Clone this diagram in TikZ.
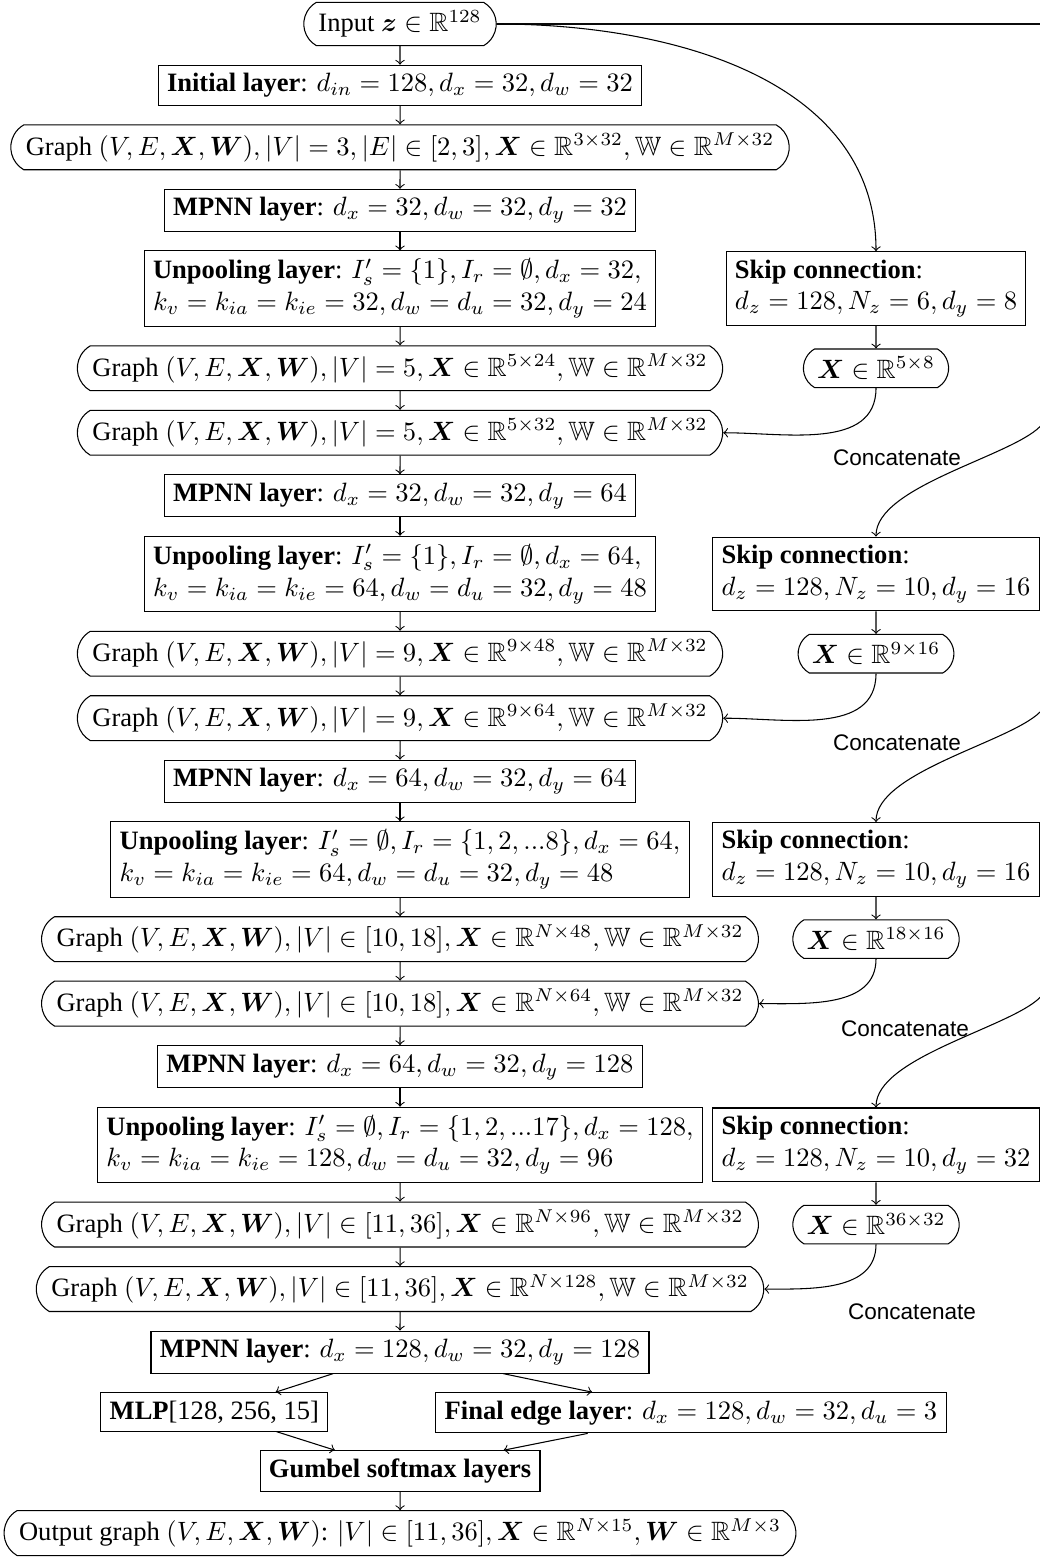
\documentclass[tikz,border=0pt]{standalone}
\usepackage{amsmath,amssymb}
\usepackage[no-math]{fontspec}
\setmainfont{Liberation Serif}
\newfontfamily\labfont{Liberation Sans}
\usetikzlibrary{positioning,calc,shapes.misc}
\begin{document}
\begin{tikzpicture}[x=0.377pt,y=-0.377pt,node distance=7pt,
  box/.style={draw,rectangle,inner xsep=3.33pt,inner ysep=3pt},
  gbox/.style={draw,rounded rectangle,rounded rectangle arc length=120,inner xsep=4pt,inner ysep=3pt},
  lbox/.style={box,align=left},
  arr/.style={->},
  lab/.style={font=\labfont\fontsize{8.5}{10}\selectfont,inner sep=0pt}]
\useasboundingbox (0,0) rectangle (1040,1560);
\coordinate (colR) at (876,0);
\coordinate (farR) at (1250,0);
% main column
\node[gbox] (in) at (400,24) {Input $\boldsymbol{z}\in\mathbb{R}^{128}$};
\node[box,below=of in] (init) {\textbf{Initial layer}: $d_{in}=128, d_x=32, d_w=32$};
\node[gbox,below=of init] (g1) {Graph $(V,E,\boldsymbol{X},\boldsymbol{W}), |V|=3, |E|\in[2,3], \boldsymbol{X}\in\mathbb{R}^{3\times 32}, \mathbb{W}\in\mathbb{R}^{M\times 32}$};
\node[box,below=of g1] (m1) {\textbf{MPNN layer}: $d_x=32, d_w=32, d_y=32$};
\node[lbox,below=of m1] (u1) {\textbf{Unpooling layer}: $I'_s=\{1\}, I_r=\emptyset, d_x=32,$\\ $k_v=k_{ia}=k_{ie}=32, d_w=d_u=32, d_y=24$};
\node[gbox,below=of u1] (g2) {Graph $(V,E,\boldsymbol{X},\boldsymbol{W}), |V|=5, \boldsymbol{X}\in\mathbb{R}^{5\times 24}, \mathbb{W}\in\mathbb{R}^{M\times 32}$};
\node[gbox,below=of g2] (g3) {Graph $(V,E,\boldsymbol{X},\boldsymbol{W}), |V|=5, \boldsymbol{X}\in\mathbb{R}^{5\times 32}, \mathbb{W}\in\mathbb{R}^{M\times 32}$};
\node[box,below=of g3] (m2) {\textbf{MPNN layer}: $d_x=32, d_w=32, d_y=64$};
\node[lbox,below=of m2] (u2) {\textbf{Unpooling layer}: $I'_s=\{1\}, I_r=\emptyset, d_x=64,$\\ $k_v=k_{ia}=k_{ie}=64, d_w=d_u=32, d_y=48$};
\node[gbox,below=of u2] (g4) {Graph $(V,E,\boldsymbol{X},\boldsymbol{W}), |V|=9, \boldsymbol{X}\in\mathbb{R}^{9\times 48}, \mathbb{W}\in\mathbb{R}^{M\times 32}$};
\node[gbox,below=of g4] (g5) {Graph $(V,E,\boldsymbol{X},\boldsymbol{W}), |V|=9, \boldsymbol{X}\in\mathbb{R}^{9\times 64}, \mathbb{W}\in\mathbb{R}^{M\times 32}$};
\node[box,below=of g5] (m3) {\textbf{MPNN layer}: $d_x=64, d_w=32, d_y=64$};
\node[lbox,below=of m3] (u3) {\textbf{Unpooling layer}: $I'_s=\emptyset, I_r=\{1,2,...8\}, d_x=64,$\\ $k_v=k_{ia}=k_{ie}=64, d_w=d_u=32, d_y=48$};
\node[gbox,below=of u3] (g6) {Graph $(V,E,\boldsymbol{X},\boldsymbol{W}), |V|\in[10,18], \boldsymbol{X}\in\mathbb{R}^{N\times 48}, \mathbb{W}\in\mathbb{R}^{M\times 32}$};
\node[gbox,below=of g6] (g7) {Graph $(V,E,\boldsymbol{X},\boldsymbol{W}), |V|\in[10,18], \boldsymbol{X}\in\mathbb{R}^{N\times 64}, \mathbb{W}\in\mathbb{R}^{M\times 32}$};
\node[box,below=of g7] (m4) {\textbf{MPNN layer}: $d_x=64, d_w=32, d_y=128$};
\node[lbox,below=of m4] (u4) {\textbf{Unpooling layer}: $I'_s=\emptyset, I_r=\{1,2,...17\}, d_x=128,$\\ $k_v=k_{ia}=k_{ie}=128, d_w=d_u=32, d_y=96$};
\node[gbox,below=of u4] (g8) {Graph $(V,E,\boldsymbol{X},\boldsymbol{W}), |V|\in[11,36], \boldsymbol{X}\in\mathbb{R}^{N\times 96}, \mathbb{W}\in\mathbb{R}^{M\times 32}$};
\node[gbox,below=of g8] (g9) {Graph $(V,E,\boldsymbol{X},\boldsymbol{W}), |V|\in[11,36], \boldsymbol{X}\in\mathbb{R}^{N\times 128}, \mathbb{W}\in\mathbb{R}^{M\times 32}$};
\node[box,below=of g9] (m5) {\textbf{MPNN layer}: $d_x=128, d_w=32, d_y=128$};
\node[box,below=of m5,xshift=-70pt] (mlp) {\textbf{MLP}[128, 256, 15]};
\node[box,below=of m5,xshift=109.7pt] (fin) {\textbf{Final edge layer}: $d_x=128, d_w=32, d_u=3$};
\node[box,anchor=north,yshift=-7pt] (gum) at (m5 |- mlp.south) {\textbf{Gumbel softmax layers}};
\node[gbox,below=of gum] (out) {Output graph $(V,E,\boldsymbol{X},\boldsymbol{W})$: $|V|\in[11,36], \boldsymbol{X}\in\mathbb{R}^{N\times 15}, \boldsymbol{W}\in\mathbb{R}^{M\times 3}$};
% right column
\node[lbox] (s1) at (u1 -| colR) {\textbf{Skip connection}:\\ $d_z=128, N_z=6, d_y=8$};
\node[lbox] (s2) at (u2 -| colR) {\textbf{Skip connection}:\\ $d_z=128, N_z=10, d_y=16$};
\node[lbox] (s3) at (u3 -| colR) {\textbf{Skip connection}:\\ $d_z=128, N_z=10, d_y=16$};
\node[lbox] (s4) at (u4 -| colR) {\textbf{Skip connection}:\\ $d_z=128, N_z=10, d_y=32$};
\node[gbox] (x1) at (g2 -| colR) {$\boldsymbol{X}\in\mathbb{R}^{5\times 8}$};
\node[gbox] (x2) at (g4 -| colR) {$\boldsymbol{X}\in\mathbb{R}^{9\times 16}$};
\node[gbox] (x3) at (g6 -| colR) {$\boldsymbol{X}\in\mathbb{R}^{18\times 16}$};
\node[gbox] (x4) at (g8 -| colR) {$\boldsymbol{X}\in\mathbb{R}^{36\times 32}$};
% labels
\node[lab] (c1) at ($(g3 -| colR)+(21,25)$) {Concatenate};
\node[lab] (c2) at ($(g5 -| colR)+(21,25)$) {Concatenate};
\node[lab] (c3) at ($(g7 -| colR)+(29,25)$) {Concatenate};
\node[lab] (c4) at ($(g9 -| colR)+(36,23)$) {Concatenate};
% main arrows
\foreach \a/\b in {in/init,init/g1,g1/m1,m1/u1,u1/g2,g2/g3,g3/m2,m2/u2,u2/g4,g4/g5,g5/m3,m3/u3,u3/g6,g6/g7,g7/m4,m4/u4,u4/g8,g8/g9,g9/m5,m5/mlp,m5/fin,mlp/gum,fin/gum,gum/out}
  \draw[arr] (\a) -- (\b);
% skip arrows
\foreach \k/\g in {1/3,2/5,3/7,4/9} {
  \draw[arr] (s\k) -- (x\k);
  \draw[arr] (x\k.south) to[out=-90,in=0] (g\g.east);
}
\draw[arr] (in.east) to[out=0,in=90] (s1.north);
\begin{scope}
  \clip (0,0) rectangle (1040,1560);
  \foreach \k in {2,3,4} {
    \coordinate (e\k) at ($(s\k.north)+(164,-110)$);
    \draw[arr] (in.east) -- (in.east -| farR)
      .. controls ($(in.east -| farR)+(200,0)$) and ($(e\k)+(110,-110)$) .. (e\k)
      .. controls ($(e\k)+(-30,30)$) and ($(s\k.north)+(0,-50)$) .. (s\k.north);
  }
\end{scope}
\end{tikzpicture}
\end{document}
